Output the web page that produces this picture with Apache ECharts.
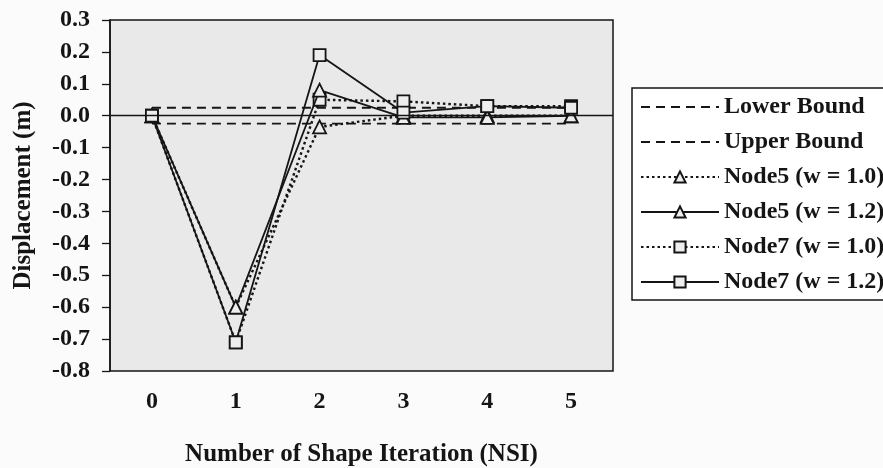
<!DOCTYPE html>
<html>
<head>
<meta charset="utf-8">
<script src="https://cdn.jsdelivr.net/npm/echarts@6/dist/echarts.min.js"></script>
<style>
  html, body { margin: 0; padding: 0; background: #fbfbfb; }
  #main { width: 883px; height: 468px; }
</style>
</head>
<body>
<div id="main"></div>
<script>
// NSI 0..5
let iterations = ['0', '1', '2', '3', '4', '5'];
let lowerBound = [-0.025, -0.025, -0.025, -0.025, -0.025, -0.025];
let upperBound = [0.025, 0.025, 0.025, 0.025, 0.025, 0.025];
let node5w10 = [0, -0.60, -0.035, 0.0, 0.0, 0.0];
let node5w12 = [0, -0.60, 0.08, -0.005, -0.005, 0.0];
let node7w10 = [0, -0.71, 0.05, 0.045, 0.03, 0.03];
let node7w12 = [0, -0.71, 0.19, 0.01, 0.03, 0.025];

let ink = '#151515';
let fontFam = '"Liberation Serif", "DejaVu Serif", serif';

function markerSeries(name, data, symbol, dotted) {
    return {
        name: name,
        type: 'line',
        data: data,
        symbol: symbol,
        symbolSize: symbol === 'rect' ? 12 : 13,
        lineStyle: { color: ink, width: dotted ? 2.4 : 1.8, type: dotted ? [2.5, 3] : 'solid' },
        itemStyle: { color: '#eeeeee', borderColor: ink, borderWidth: 1.8 },
        z: dotted ? 3 : 4
    };
}

let myChart = echarts.init(document.getElementById('main'));

let option = {
    animation: false,
    textStyle: { fontFamily: fontFam },
    grid: {
        left: 110,
        right: 270,
        top: 20,
        bottom: 97,
        outerBoundsMode: 'none',
        containLabel: false,
        show: true,
        backgroundColor: '#e9e9e9',
        borderColor: ink,
        borderWidth: 1.5
    },
    legend: {
        orient: 'vertical',
        left: 632,
        top: 88,
        padding: [7, 12, 6, 8],
        itemWidth: 78,
        itemHeight: 14,
        itemGap: 11,
        backgroundColor: '#ffffff',
        borderColor: ink,
        borderWidth: 1.5,
        textStyle: { fontFamily: fontFam, fontWeight: 'bold', fontSize: 24, color: ink },
        data: [
            { name: 'Lower Bound', itemStyle: { opacity: 0 } },
            { name: 'Upper Bound', itemStyle: { opacity: 0 } },
            'Node5 (w = 1.0)', 'Node5 (w = 1.2)', 'Node7 (w = 1.0)', 'Node7 (w = 1.2)'
        ]
    },
    xAxis: {
        type: 'category',
        data: iterations,
        boundaryGap: true,
        axisLine: { show: false, onZero: false },
        axisTick: { show: false },
        axisLabel: { margin: 19, fontFamily: fontFam, fontWeight: 'bold', fontSize: 24, color: ink },
        name: 'Number of Shape Iteration (NSI)',
        nameLocation: 'middle',
        nameGap: 71,
        nameTextStyle: { fontFamily: fontFam, fontWeight: 'bold', fontSize: 25, color: ink }
    },
    yAxis: {
        type: 'value',
        min: -0.8,
        max: 0.3,
        interval: 0.1,
        axisLine: { show: true, lineStyle: { color: ink, width: 1.5 } },
        axisTick: { show: true, length: 8, lineStyle: { color: ink, width: 1.3 } },
        splitLine: { show: false },
        axisLabel: {
            margin: 20,
            fontFamily: fontFam,
            fontWeight: 'bold',
            fontSize: 24,
            color: ink,
            formatter: function (v) { return v.toFixed(1); }
        },
        name: 'Displacement (m)',
        nameLocation: 'middle',
        nameGap: 74,
        nameTextStyle: { fontFamily: fontFam, fontWeight: 'bold', fontSize: 25, color: ink }
    },
    series: [
        {
            name: 'Lower Bound',
            type: 'line',
            data: lowerBound,
            symbol: 'none',
            lineStyle: { color: ink, width: 1.8, type: [9, 6] },
            itemStyle: { color: ink },
            markLine: {
                silent: true,
                symbol: 'none',
                label: { show: false },
                lineStyle: { color: ink, width: 1.3, type: 'solid' },
                data: [{ yAxis: 0 }]
            },
            z: 2
        },
        {
            name: 'Upper Bound',
            type: 'line',
            data: upperBound,
            symbol: 'none',
            lineStyle: { color: ink, width: 1.8, type: [9, 6] },
            itemStyle: { color: ink },
            z: 2
        },
        markerSeries('Node5 (w = 1.0)', node5w10, 'triangle', true),
        markerSeries('Node5 (w = 1.2)', node5w12, 'triangle', false),
        markerSeries('Node7 (w = 1.0)', node7w10, 'rect', true),
        markerSeries('Node7 (w = 1.2)', node7w12, 'rect', false)
    ]
};

myChart.setOption(option);

window.addEventListener('resize', function () {
    myChart.resize();
});
</script>
</body>
</html>
